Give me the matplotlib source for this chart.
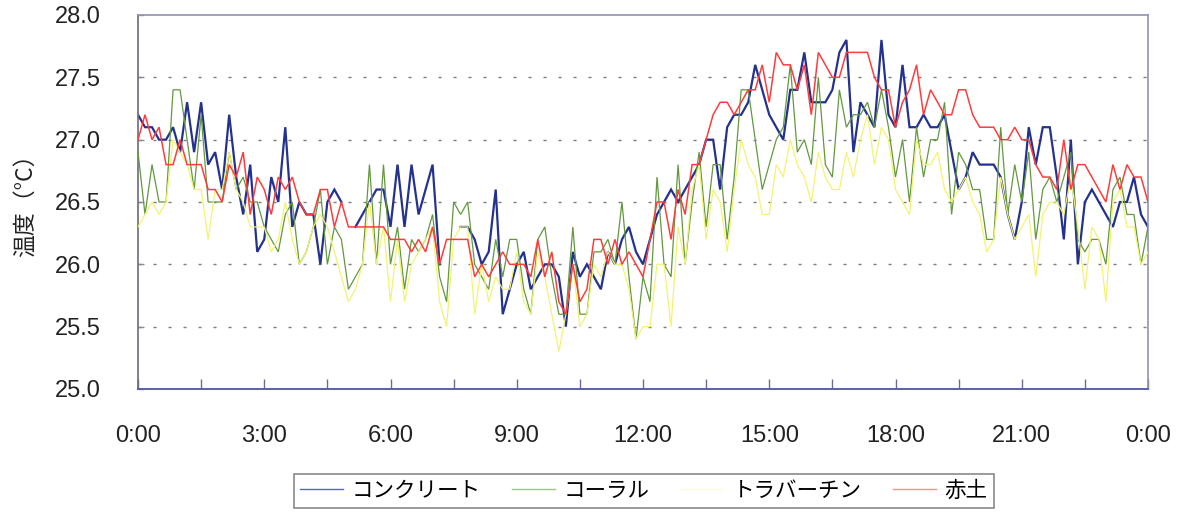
import numpy as np
import matplotlib
matplotlib.use("Agg")
import matplotlib.pyplot as plt
from matplotlib.lines import Line2D

plt.rcParams['font.family'] = ['Liberation Sans', 'Noto Sans CJK JP', 'DejaVu Sans']

# 10-minute readings over one day (0:00 .. 24:00), °C
concrete = [
    27.2, 27.1, 27.1, 27.0, 27.0, 27.1, 26.9, 27.3, 26.9, 27.3,
    26.8, 26.9, 26.6, 27.2, 26.7, 26.4, 26.8, 26.1, 26.2, 26.7,
    26.5, 27.1, 26.3, 26.5, 26.4, 26.4, 26.0, 26.5, 26.6, 26.5,
    np.nan, 26.3, 26.4, 26.5, 26.6, 26.6, 26.3, 26.8, 26.3, 26.8,
    26.4, 26.6, 26.8, 26.0, np.nan, np.nan, 26.3, 26.3, 26.2, 26.0,
    26.1, 26.6, 25.6, 25.8, 26.0, 26.1, 25.8, 25.9, 26.0, 26.0,
    25.9, 25.5, 26.1, 25.9, 26.0, 25.9, 25.8, 26.1, 26.0, 26.2,
    26.3, 26.1, 26.0, 26.2, 26.4, 26.5, 26.6, 26.5, 26.6, 26.7,
    26.8, 27.0, 27.0, 26.6, 27.1, 27.2, 27.2, 27.3, 27.6, 27.4,
    27.2, 27.1, 27.0, 27.4, 27.4, 27.7, 27.3, 27.3, 27.3, 27.4,
    27.7, 27.8, 26.9, 27.3, 27.2, 27.1, 27.8, 27.2, 27.1, 27.6,
    27.1, 27.1, 27.2, 27.1, 27.1, 27.2, 26.9, 26.6, 26.7, 26.9,
    26.8, 26.8, 26.8, 26.7, 26.4, 26.2, 26.5, 27.1, 26.8, 27.1,
    27.1, 26.7, 26.2, 27.0, 26.0, 26.5, 26.6, 26.5, 26.4, 26.3,
    26.5, 26.5, 26.7, 26.4, 26.3,
]
coral = [
    26.9, 26.4, 26.8, 26.5, 26.5, 27.4, 27.4, 27.0, 26.6, 27.2,
    26.5, 26.5, 26.5, 26.9, 26.6, 26.7, 26.5, 26.5, 26.3, 26.2,
    26.1, 26.4, 26.5, 26.0, 26.1, 26.3, 26.6, 26.0, 26.3, 26.2,
    25.8, 25.9, 26.0, 26.8, 26.0, 26.8, 26.0, 26.3, 25.8, 26.2,
    26.1, 26.2, 26.4, 25.9, 25.7, 26.5, 26.4, 26.5, 26.0, 25.9,
    25.8, 26.2, 25.9, 26.2, 26.2, 25.8, 25.6, 26.2, 26.3, 25.9,
    25.6, 25.6, 26.3, 25.6, 25.6, 26.1, 26.1, 26.2, 26.0, 26.5,
    25.9, 25.4, 25.9, 25.7, 26.7, 26.0, 25.9, 26.8, 26.0, 26.5,
    26.9, 26.3, 26.8, 26.8, 26.2, 26.7, 27.4, 27.4, 27.0, 26.6,
    26.8, 27.0, 27.1, 27.6, 26.9, 27.0, 26.8, 27.5, 26.8, 26.7,
    27.4, 27.1, 27.2, 27.2, 27.3, 27.1, 27.4, 27.1, 26.7, 27.0,
    26.5, 27.1, 26.7, 27.0, 27.0, 27.3, 26.4, 26.9, 26.8, 26.6,
    26.6, 26.2, 26.2, 27.1, 26.4, 26.8, 26.5, 26.9, 26.2, 26.6,
    26.7, 26.5, 26.7, 26.9, 26.2, 26.1, 26.2, 26.2, 26.0, 26.6,
    26.7, 26.4, 26.4, 26.0, 26.3,
]
travertine = [
    26.3, 26.4, 26.5, 26.4, 26.5, 27.0, 26.9, 26.8, 26.6, 26.6,
    26.2, 26.6, 26.6, 26.9, 26.6, 26.5, 26.3, 26.3, 26.3, 26.1,
    26.2, 26.5, 26.2, 26.0, 26.1, 26.3, 26.4, 26.3, 26.1, 25.9,
    25.7, 25.8, 26.0, 26.5, 26.0, 26.3, 25.7, 26.2, 25.7, 26.0,
    26.1, 26.2, 26.3, 25.7, 25.5, 26.2, 26.3, 26.3, 25.6, 26.0,
    25.7, 25.9, 25.8, 25.8, 26.1, 25.7, 25.6, 26.1, 25.9, 25.6,
    25.3, 25.6, 26.0, 25.5, 25.6, 26.0, 25.9, 26.1, 26.0, 26.0,
    25.8, 25.4, 25.5, 25.5, 26.0, 26.0, 25.5, 26.3, 26.0, 26.6,
    26.8, 26.2, 26.6, 26.5, 26.1, 26.6, 27.0, 26.8, 26.7, 26.4,
    26.4, 26.8, 26.7, 27.0, 26.8, 26.7, 26.5, 26.9, 26.7, 26.6,
    26.6, 26.9, 26.7, 27.0, 27.2, 26.8, 27.1, 27.0, 26.6, 26.5,
    26.4, 27.0, 26.8, 26.8, 26.9, 26.6, 26.5, 26.6, 26.7, 26.5,
    26.4, 26.1, 26.2, 26.7, 26.4, 26.2, 26.3, 26.4, 25.9, 26.4,
    26.5, 26.5, 26.4, 26.7, 26.3, 25.8, 26.3, 26.2, 25.7, 26.5,
    26.6, 26.3, 26.3, 26.0, 26.1,
]
red_soil = [
    27.0, 27.2, 27.0, 27.1, 26.8, 26.8, 27.0, 26.8, 26.8, 26.8,
    26.6, 26.6, 26.5, 26.8, 26.7, 26.9, 26.4, 26.7, 26.6, 26.4,
    26.7, 26.6, 26.7, 26.5, 26.4, 26.4, 26.6, 26.6, 26.3, 26.5,
    26.3, 26.3, 26.3, 26.3, 26.3, 26.3, 26.2, 26.2, 26.2, 26.1,
    26.2, 26.1, 26.3, 26.0, 26.2, 26.2, 26.2, 26.2, 25.9, 26.0,
    25.9, 26.0, 26.1, 26.0, 26.0, 26.0, 25.9, 26.2, 25.9, 26.1,
    25.7, 25.6, 26.0, 25.7, 25.8, 26.2, 26.2, 26.0, 26.2, 26.0,
    26.1, 26.0, 25.9, 26.2, 26.5, 26.5, 26.2, 26.6, 26.4, 26.8,
    26.8, 27.0, 27.2, 27.3, 27.3, 27.2, 27.3, 27.4, 27.4, 27.6,
    27.3, 27.7, 27.6, 27.6, 27.4, 27.6, 27.2, 27.7, 27.6, 27.5,
    27.5, 27.7, 27.7, 27.7, 27.7, 27.5, 27.4, 27.4, 27.1, 27.3,
    27.4, 27.6, 27.2, 27.4, 27.3, 27.2, 27.2, 27.4, 27.4, 27.2,
    27.1, 27.1, 27.1, 27.0, 27.0, 27.1, 27.0, 27.0, 26.8, 26.7,
    26.7, 26.6, 27.0, 26.6, 26.8, 26.8, 26.7, 26.6, 26.5, 26.8,
    26.6, 26.8, 26.7, 26.7, 26.5,
]

series_names = ['コンクリート', 'コーラル', 'トラバーチン', '赤土']
time_labels = ['0:00', '3:00', '6:00', '9:00', '12:00', '15:00', '18:00', '21:00', '0:00']

colors = ['#24328e', '#62983e', '#f3f372', '#ff3c3c']
widths = [1.6, 0.9, 0.9, 1.1]
legend_colors = ['#5a68bd', '#9cc88a', '#fcfcd8', '#ff8a8a']

fig = plt.figure(figsize=(11.84, 5.15), dpi=100)
ax = fig.add_axes([138 / 1184, 1 - 389 / 515, 1010 / 1184, 374 / 515])

x = np.arange(len(concrete))
for k, (vals, c, w) in enumerate(zip([concrete, coral, travertine, red_soil], colors, widths)):
    ax.plot(x, vals, color=c, lw=w, zorder=2 + k, solid_joinstyle='miter')

ax.set_xlim(0, len(concrete) - 1)
ax.set_ylim(25.0, 28.0)

# horizontal dotted gridlines
for g in [25.5, 26.0, 26.5, 27.0, 27.5]:
    ax.axhline(g, color='#7c7c7c', lw=1.0, dashes=(2.2, 8.6), zorder=1)

tick_pos = np.arange(0, len(concrete), 9)
ax.set_xticks(tick_pos)
labels = []
for j in range(len(tick_pos)):
    labels.append(time_labels[j // 2] if j % 2 == 0 else '')
ax.set_xticklabels(labels, fontsize=17, color='#222222')
ax.tick_params(axis='x', direction='in', length=7, width=1.0, color='#6c6c90', pad=26)

ax.set_yticks([25.0, 25.5, 26.0, 26.5, 27.0, 27.5, 28.0])
ax.set_yticklabels([f'{v:.1f}' for v in [25.0, 25.5, 26.0, 26.5, 27.0, 27.5, 28.0]],
                   fontsize=17, color='#222222')
ax.tick_params(axis='y', direction='in', length=4, width=1.0, color='#8a8a8a', pad=27)

for side in ['top', 'right']:
    ax.spines[side].set_color('#8f93b0')
    ax.spines[side].set_linewidth(1.2)
ax.spines['left'].set_color('#6a6a7a')
ax.spines['left'].set_linewidth(1.2)
ax.spines['bottom'].set_color('#5a5fae')
ax.spines['bottom'].set_linewidth(1.4)

fig.text(25 / 1184, 1 - 200 / 515, '温度（°C）', rotation=90, ha='center', va='center',
         fontsize=16.5, family=['Noto Sans CJK JP', 'DejaVu Sans'], color='#222222')

handles = [Line2D([], [], color=c, lw=1.0) for c in legend_colors]
leg = fig.legend(handles, series_names, loc='center', bbox_to_anchor=(644 / 1184, 1 - 491 / 515),
                 ncol=4, frameon=True, fancybox=False, framealpha=1, edgecolor='#8a8a8a',
                 prop={'family': ['Noto Sans CJK JP'], 'size': 15.5}, handlelength=2.0,
                 handletextpad=0.4, columnspacing=1.45, borderpad=0.3)
leg.get_frame().set_linewidth(1.2)

fig.savefig('out.png', dpi=100, facecolor='white')
